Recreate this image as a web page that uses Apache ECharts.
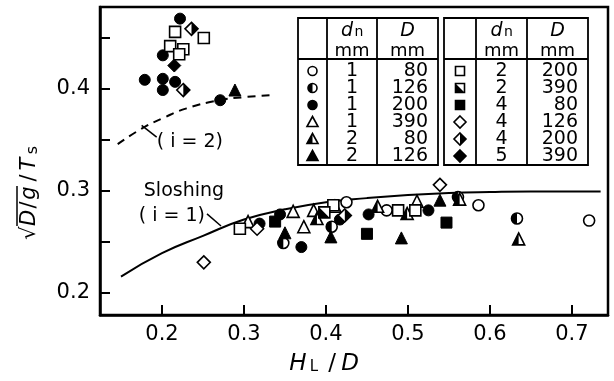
<!DOCTYPE html>
<html>
<head>
<meta charset="utf-8">
<script src="https://cdn.jsdelivr.net/npm/echarts@6/dist/echarts.min.js"></script>
<style>
  html, body { margin: 0; padding: 0; background: #fff; }
  #chart { width: 614px; height: 381px; }
</style>
</head>
<body>
<div id="chart"></div>
<script>
// ---- data ----
const xTicks = [0.2, 0.3, 0.4, 0.5, 0.6, 0.7];
const yTicks = [0.2, 0.25, 0.3, 0.35, 0.4, 0.45];
const yLabels = [0.2, 0.3, 0.4];

// theoretical curves
const sloshing1 = [[0.15, 0.216], [0.2, 0.239], [0.25, 0.256], [0.3, 0.272], [0.35, 0.282], [0.4, 0.289],
  [0.45, 0.293], [0.5, 0.296], [0.55, 0.298], [0.6, 0.299], [0.65, 0.2995], [0.735, 0.2995]];
const sloshing2 = [[0.146, 0.346], [0.177, 0.362], [0.2, 0.371], [0.23, 0.381], [0.27, 0.389], [0.3, 0.392], [0.335, 0.394]];

// measurements, one array per marker (dn mm, D mm)
const openCircle = [[0.425, 0.289], [0.474, 0.281], [0.586, 0.286], [0.721, 0.271]];          // 1, 80
const halfCircle = [[0.348, 0.249], [0.407, 0.265], [0.561, 0.294], [0.633, 0.273]];          // 1, 126
const fullCircle = [[0.222, 0.469], [0.201, 0.433], [0.179, 0.409], [0.201, 0.410], [0.216, 0.407],
  [0.201, 0.399], [0.271, 0.389], [0.319, 0.268], [0.344, 0.277], [0.370, 0.245], [0.417, 0.272],
  [0.452, 0.277], [0.525, 0.281]];                                                            // 1, 200
const openTriangle = [[0.305, 0.270], [0.360, 0.280], [0.373, 0.265], [0.385, 0.281], [0.411, 0.285], [0.511, 0.290]]; // 1, 390
const halfTriangle = [[0.389, 0.273], [0.463, 0.285], [0.499, 0.278], [0.563, 0.292], [0.635, 0.253]]; // 2, 80
const fullTriangle = [[0.289, 0.399], [0.350, 0.259], [0.406, 0.255], [0.492, 0.254], [0.539, 0.291]]; // 2, 126
const openSquare = [[0.216, 0.456], [0.251, 0.450], [0.210, 0.442], [0.226, 0.439], [0.221, 0.434],
  [0.295, 0.263], [0.409, 0.286], [0.488, 0.281], [0.509, 0.281]];                              // 2, 200
const halfSquare = [[0.398, 0.279]];                                                          // 2, 390
const fullSquare = [[0.338, 0.270], [0.450, 0.258], [0.547, 0.269]];                          // 4, 80
const openDiamond = [[0.251, 0.230], [0.316, 0.263], [0.539, 0.306]];                         // 4, 126
const halfDiamond = [[0.236, 0.459], [0.226, 0.399], [0.423, 0.276]];                         // 4, 200
const fullDiamond = [[0.215, 0.423]];                                                         // 5, 390

// legend tables: marker key, dn, D
const table1 = [['oc', '1', '80'], ['hc', '1', '126'], ['fc', '1', '200'], ['ot', '1', '390'], ['ht', '2', '80'], ['ft', '2', '126']];
const table2 = [['os', '2', '200'], ['hs', '2', '390'], ['fs', '4', '80'], ['od', '4', '126'], ['hd', '4', '200'], ['fd', '5', '390']];

const FONT = 'DejaVu Sans';
const chart = echarts.init(document.getElementById('chart'));

const openStyle = {color: '#fff', borderColor: '#000', borderWidth: 1.6, opacity: 1};
const fullStyle = {color: '#000', borderColor: '#000', borderWidth: 1, opacity: 1};
const HALF = {
  c: 'path://M50,0 A50,50 0 0 0 50,100 Z M100,50 L100,50',
  t: 'path://M50,0 L0,100 L50,100 Z M100,100 L100,100',
  s: 'path://M0,0 L0,100 L100,100 Z M100,0 L100,0',
  d: 'path://M50,0 L100,50 L50,100 Z M0,50 L0,50',
};

function scatter(data, symbol, size, style) {
  return {type: 'scatter', data, symbol, symbolSize: size, itemStyle: style, silent: true, z: 3};
}
function overlay(data, path, size) {
  return {type: 'scatter', data, symbol: path, symbolSize: size, itemStyle: {color: '#000', borderWidth: 0, opacity: 1}, silent: true, z: 4};
}

const series = [
  {type: 'line', data: sloshing1, smooth: true, showSymbol: false, lineStyle: {color: '#000', width: 2}, z: 2, silent: true},
  {type: 'line', data: sloshing2, smooth: true, showSymbol: false, lineStyle: {color: '#000', width: 2, type: [8, 6]}, z: 2, silent: true},
  scatter(openCircle, 'circle', 11, openStyle),
  scatter(halfCircle, 'circle', 11, openStyle), overlay(halfCircle, HALF.c, 11),
  scatter(fullCircle, 'circle', 11, fullStyle),
  scatter(openTriangle, 'triangle', 12, openStyle),
  scatter(halfTriangle, 'triangle', 12, openStyle), overlay(halfTriangle, HALF.t, 12),
  scatter(fullTriangle, 'triangle', 12, fullStyle),
  scatter(openSquare, 'rect', 11, openStyle),
  scatter(halfSquare, 'rect', 11, openStyle), overlay(halfSquare, HALF.s, 11),
  scatter(fullSquare, 'rect', 11, fullStyle),
  scatter(openDiamond, 'diamond', 13, openStyle),
  scatter(halfDiamond, 'diamond', 13, openStyle), overlay(halfDiamond, HALF.d, 13),
  scatter(fullDiamond, 'diamond', 13, fullStyle),
];

const option = {
  animation: false,
  backgroundColor: '#fff',
  grid: {left: 100, right: 6, top: 7, bottom: 66, show: true, borderColor: '#000', borderWidth: 2.5},
  xAxis: {
    type: 'value', min: 0.1244, max: 0.744,
    axisLine: {onZero: false, lineStyle: {color: '#000', width: 2.5}},
    axisTick: {inside: true, length: 10, customValues: xTicks, lineStyle: {color: '#000', width: 2}},
    axisLabel: {customValues: xTicks, margin: 9, color: '#000', fontSize: 21, fontFamily: FONT, formatter: v => v.toFixed(1)},
    splitLine: {show: false},
  },
  yAxis: {
    type: 'value', min: 0.1784, max: 0.4804,
    axisLine: {onZero: false, lineStyle: {color: '#000', width: 2.5}},
    axisTick: {inside: true, length: 10, customValues: yTicks, lineStyle: {color: '#000', width: 2}},
    axisLabel: {customValues: yLabels, margin: 10, color: '#000', fontSize: 21, fontFamily: FONT, formatter: v => v.toFixed(1)},
    splitLine: {show: false},
  },
  series,
};
chart.setOption(option);

// ---- annotations, axis titles and legend tables ----
const txt = (text, x, y, size, extra) => ({
  type: 'text', silent: true, z: 10,
  style: Object.assign({text, x, y, fill: '#000', fontSize: size, fontFamily: FONT, align: 'center', verticalAlign: 'middle'}, extra || {}),
});
const ln = (x1, y1, x2, y2, w) => ({type: 'line', silent: true, z: 10, shape: {x1, y1, x2, y2}, style: {stroke: '#000', lineWidth: w || 1.5}});
const px = p => chart.convertToPixel({gridIndex: 0}, p);

const g = [];
// curve labels
let p = px([0.2268, 0.300]); g.push(txt('Sloshing', p[0], p[1], 19));
p = px([0.212, 0.2755]); g.push(txt('( i = 1)', p[0], p[1], 19));
let a = px([0.2549, 0.2775]), b = px([0.272, 0.2657]); g.push(ln(a[0], a[1], b[0], b[1]));
p = px([0.234, 0.348]); g.push(txt('( i = 2)', p[0], p[1], 19));
a = px([0.1752, 0.3643]); b = px([0.1935, 0.3529]); g.push(ln(a[0], a[1], b[0], b[1]));

// x axis title: H_L / D
g.push(txt('H', 298, 364, 23, {fontStyle: 'italic'}));
g.push(txt('L', 314, 367, 15));
g.push(txt('/', 332, 364, 23));
g.push(txt('D', 350, 364, 23, {fontStyle: 'italic'}));

// y axis title: sqrt(D/g) / T_s, rotated
g.push({
  type: 'group', x: 28, y: 188, rotation: Math.PI / 2, silent: true,
  children: [
    txt('\u221A', -45, 2, 21),
    txt('D', -30, 2, 21, {fontStyle: 'italic'}),
    txt('/', -17, 2, 21),
    txt('g', -5, 2, 21, {fontStyle: 'italic'}),
    ln(-38, -11, 2, -11, 1.5),
    txt('/', 10, 2, 21),
    txt('T', 24, 2, 21, {fontStyle: 'italic'}),
    txt('s', 38, 5, 16),
  ],
});

// legend tables
function key(kind, cx, cy) {
  const r = 4.5, full = kind[0] === 'f', half = kind[0] === 'h';
  const st = {fill: full ? '#000' : '#fff', stroke: '#000', lineWidth: 1.6};
  const out = [];
  const shape = kind[1];
  if (shape === 'c') {
    out.push({type: 'circle', shape: {cx, cy, r}, style: st, z: 10});
    if (half) out.push({type: 'sector', shape: {cx, cy, r, startAngle: Math.PI / 2, endAngle: Math.PI * 1.5}, style: {fill: '#000'}, z: 11});
  } else if (shape === 't') {
    out.push({type: 'polygon', shape: {points: [[cx, cy - r - 1], [cx + r + 1, cy + r], [cx - r - 1, cy + r]]}, style: st, z: 10});
    if (half) out.push({type: 'polygon', shape: {points: [[cx, cy - r - 1], [cx, cy + r], [cx - r - 1, cy + r]]}, style: {fill: '#000'}, z: 11});
  } else if (shape === 's') {
    out.push({type: 'rect', shape: {x: cx - r, y: cy - r, width: 2 * r, height: 2 * r}, style: st, z: 10});
    if (half) out.push({type: 'polygon', shape: {points: [[cx - r, cy - r], [cx - r, cy + r], [cx + r, cy + r]]}, style: {fill: '#000'}, z: 11});
  } else {
    const d = r + 1.5;
    out.push({type: 'polygon', shape: {points: [[cx, cy - d], [cx + d, cy], [cx, cy + d], [cx - d, cy]]}, style: st, z: 10});
    if (half) out.push({type: 'polygon', shape: {points: [[cx, cy - d], [cx + d, cy], [cx, cy + d]]}, style: {fill: '#000'}, z: 11});
  }
  return out.map(o => Object.assign(o, {silent: true}));
}

function table(rows, left, cols) {
  const top = 18, head = 59, bottom = 165, right = cols[2];
  g.push({type: 'rect', silent: true, z: 9, shape: {x: left, y: top, width: right - left, height: bottom - top},
    style: {fill: '#fff', stroke: '#000', lineWidth: 1.8}});
  g.push(ln(left, head, right, head, 1.8));
  g.push(ln(cols[0], top, cols[0], bottom, 1.8));
  g.push(ln(cols[1], top, cols[1], bottom, 1.8));
  const dnX = (cols[0] + cols[1]) / 2, dX = (cols[1] + cols[2]) / 2;
  g.push(txt('d', dnX - 5, 31, 19, {fontStyle: 'italic'}));
  g.push(txt('n', dnX + 7, 32, 14));
  g.push(txt('mm', dnX, 51, 18));
  g.push(txt('D', dX, 31, 19, {fontStyle: 'italic'}));
  g.push(txt('mm', dX, 51, 18));
  rows.forEach((r, i) => {
    const y = 71 + i * 17;
    key(r[0], (left + cols[0]) / 2, y).forEach(e => g.push(e));
    g.push(txt(r[1], dnX, y, 19));
    g.push(txt(r[2], right - 10, y, 19, {align: 'right'}));
  });
}
table(table1, 298, [327, 377, 438]);
table(table2, 444, [476, 527, 588]);

chart.setOption({graphic: g});
</script>
</body>
</html>
